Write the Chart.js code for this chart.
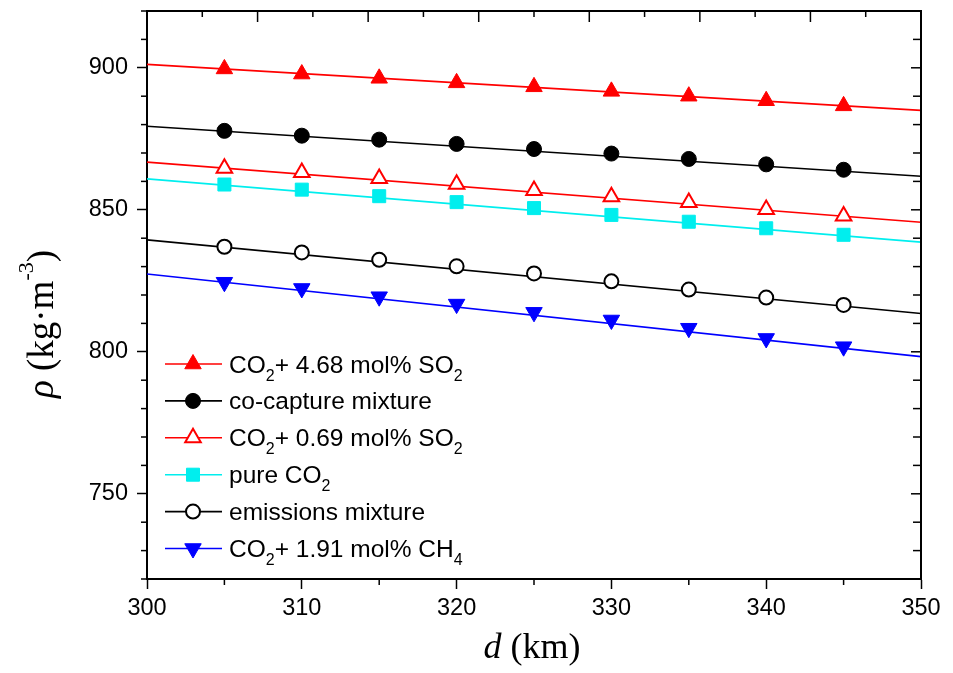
<!DOCTYPE html>
<html>
<head>
<meta charset="utf-8">
<title>Density along pipeline</title>
<script src="https://cdn.jsdelivr.net/npm/chart.js@4.4.1/dist/chart.umd.min.js"></script>
<style>
  html, body { margin: 0; padding: 0; background: #fff; }
  canvas { display: block; }
</style>
</head>
<body>
<canvas id="densityChart" width="953" height="673"></canvas>
<script>
// Marker positions (km) and the end points of the fitted lines
const distances = [305, 310, 315, 320, 325, 330, 335, 340, 345];
const fitDistances = [300, 350];

// Density values (kg/m3)
const so2High = [899.6, 897.8, 896.3, 894.7, 893.3, 891.7, 890.0, 888.4, 886.6];
const so2HighFit = [901.2, 885.0];
const coCapture = [877.8, 876.1, 874.7, 873.2, 871.4, 869.8, 867.9, 866.0, 864.1];
const coCaptureFit = [879.4, 861.8];
const so2Low = [864.6, 863.1, 861.0, 859.0, 856.8, 854.6, 852.6, 850.1, 847.8];
const so2LowFit = [866.8, 845.6];
const pureCO2 = [858.9, 857.1, 854.8, 852.7, 850.6, 848.2, 845.8, 843.5, 841.2];
const pureCO2Fit = [860.9, 838.6];
const emissions = [837.0, 835.0, 832.4, 830.1, 827.6, 824.8, 821.9, 819.1, 816.5];
const emissionsFit = [839.4, 813.5];
const ch4 = [824.5, 822.3, 819.4, 816.8, 813.9, 811.2, 808.3, 804.7, 801.8];
const ch4Fit = [827.4, 798.3];

// Legend labels, "_x" marks a subscript character
const seriesLabels = [
    'CO_2+ 4.68 mol% SO_2',
    'co-capture mixture',
    'CO_2+ 0.69 mol% SO_2',
    'pure CO_2',
    'emissions mixture',
    'CO_2+ 1.91 mol% CH_4'
];

const xTickValues = [300, 310, 320, 330, 340, 350];
const yTickValues = [750, 800, 850, 900];

const SANS = '"Liberation Sans", Arial, sans-serif';
const SERIF = '"Liberation Serif", "Times New Roman", serif';

const styles = [
    { color: '#ff0000', fill: '#ff0000', pointStyle: 'triangle', radius: 9.5, rotation: 0, borderWidth: 1 },
    { color: '#000000', fill: '#000000', pointStyle: 'circle', radius: 7.5, rotation: 0, borderWidth: 1 },
    { color: '#ff0000', fill: '#ffffff', pointStyle: 'triangle', radius: 9, rotation: 0, borderWidth: 2 },
    { color: '#00eeee', fill: '#00eeee', pointStyle: 'rect', radius: 9.2, rotation: 0, borderWidth: 1 },
    { color: '#000000', fill: '#ffffff', pointStyle: 'circle', radius: 7, rotation: 0, borderWidth: 2 },
    { color: '#0000ff', fill: '#0000ff', pointStyle: 'triangle', radius: 9.5, rotation: 180, borderWidth: 1 }
];

const markerSeries = [so2High, coCapture, so2Low, pureCO2, emissions, ch4];
const fitSeries = [so2HighFit, coCaptureFit, so2LowFit, pureCO2Fit, emissionsFit, ch4Fit];

const toPoints = (xs, ys) => ys.map((y, i) => ({ x: xs[i], y: y }));

const datasets = [];
markerSeries.forEach((values, i) => {
    const s = styles[i];
    datasets.push({
        label: seriesLabels[i],
        data: toPoints(distances, values),
        showLine: false,
        pointStyle: s.pointStyle,
        pointRadius: s.radius,
        pointRotation: s.rotation,
        pointBackgroundColor: s.fill,
        pointBorderColor: s.color,
        pointBorderWidth: s.borderWidth,
        order: 0
    });
});
fitSeries.forEach((values, i) => {
    datasets.push({
        label: seriesLabels[i] + ' fit',
        data: toPoints(fitDistances, values),
        borderColor: styles[i].color,
        borderWidth: 1.6,
        pointRadius: 0,
        fill: false,
        order: 1
    });
});

function line(ctx, x1, y1, x2, y2) {
    ctx.beginPath();
    ctx.moveTo(x1, y1);
    ctx.lineTo(x2, y2);
    ctx.stroke();
}

// Draw a label with "_x" subscripts
function drawRichText(ctx, text, x, y, size, subSize, subDrop, family) {
    const parts = text.split(/(_.)/).filter(p => p.length);
    let cx = x;
    parts.forEach(p => {
        if (p[0] === '_') {
            ctx.font = subSize + 'px ' + family;
            ctx.fillText(p[1], cx, y + subDrop);
            cx += ctx.measureText(p[1]).width;
        } else {
            ctx.font = size + 'px ' + family;
            ctx.fillText(p, cx, y);
            cx += ctx.measureText(p).width;
        }
    });
}

function drawMarker(ctx, s, x, y) {
    ctx.fillStyle = s.fill;
    ctx.strokeStyle = s.color;
    ctx.lineWidth = s.borderWidth;
    if (Chart.helpers && Chart.helpers.drawPoint) {
        Chart.helpers.drawPoint(ctx, { pointStyle: s.pointStyle, radius: s.radius, rotation: s.rotation, borderWidth: s.borderWidth }, x, y);
    }
}

const decorations = {
    id: 'decorations',
    afterDraw(chart) {
        const ctx = chart.ctx;
        const xs = chart.scales.x, ys = chart.scales.y;
        const { left, right, top, bottom } = chart.chartArea;
        ctx.save();

        // frame on top and right
        ctx.strokeStyle = '#000';
        ctx.lineWidth = 2;
        line(ctx, left - 1, top, right + 1, top);
        line(ctx, right, top, right, bottom);

        // minor ticks and mirrored ticks
        ctx.lineWidth = 1.5;
        for (let v = ys.min; v <= ys.max; v += 10) {
            const py = ys.getPixelForValue(v);
            const major = yTickValues.includes(v);
            if (!major) line(ctx, left - 6, py, left, py);
            line(ctx, right - (major ? 10 : 8), py, right, py);
        }
        for (let v = xs.min + 5; v < xs.max; v += 10) {
            const px = xs.getPixelForValue(v);
            line(ctx, px, bottom, px, bottom + 6);
        }
        for (let k = 1; k < 14; k++) {
            const px = xs.getPixelForValue(xs.min + k * (xs.max - xs.min) / 14);
            line(ctx, px, top, px, top + (k % 2 === 0 ? 11 : 6));
        }

        // legend
        const rowY0 = 364, rowGap = 36.9;
        ctx.textBaseline = 'alphabetic';
        ctx.textAlign = 'left';
        styles.forEach((s, i) => {
            const y = rowY0 + i * rowGap;
            ctx.strokeStyle = s.color;
            ctx.lineWidth = 1.6;
            line(ctx, 165, y, 222, y);
            drawMarker(ctx, s, 193, y);
            ctx.fillStyle = '#000';
            drawRichText(ctx, seriesLabels[i], 229, y + 8.5, 24.5, 16, 8, SANS);
        });

        // x axis title
        ctx.fillStyle = '#000';
        ctx.font = 'italic 36px ' + SERIF;
        const dW = ctx.measureText('d').width;
        ctx.font = '36px ' + SERIF;
        const restW = ctx.measureText(' (km)').width;
        const xStart = 532 - (dW + restW) / 2;
        ctx.font = 'italic 36px ' + SERIF;
        ctx.fillText('d', xStart, 658);
        ctx.font = '36px ' + SERIF;
        ctx.fillText(' (km)', xStart + dW, 658);

        // y axis title, rotated
        ctx.translate(53, 324);
        ctx.rotate(-Math.PI / 2);
        const segs = [
            { t: '\u03c1', f: 'italic 37px ' + SERIF, dy: 0 },
            { t: ' (kg\u00b7m', f: '37px ' + SERIF, dy: 0 },
            { t: '-3', f: '22px ' + SERIF, dy: -20 },
            { t: ')', f: '37px ' + SERIF, dy: 0 }
        ];
        let total = 0;
        segs.forEach(sg => { ctx.font = sg.f; sg.w = ctx.measureText(sg.t).width; total += sg.w; });
        let cx = -total / 2;
        segs.forEach(sg => {
            ctx.font = sg.f;
            ctx.fillText(sg.t, cx, sg.dy);
            cx += sg.w;
        });

        ctx.restore();
    }
};

const ctx = document.getElementById('densityChart').getContext('2d');
new Chart(ctx, {
    type: 'line',
    data: { datasets: datasets },
    options: {
        responsive: false,
        animation: false,
        layout: { padding: { left: 0, top: 10, right: 32, bottom: 0 } },
        plugins: {
            legend: { display: false },
            tooltip: { enabled: false }
        },
        scales: {
            x: {
                type: 'linear',
                min: 300,
                max: 350,
                afterBuildTicks: (scale) => { scale.ticks = xTickValues.map(v => ({ value: v })); },
                afterFit: (scale) => {
                    scale.height = 94;
                    scale.paddingLeft = 0;
                    scale.paddingRight = 0;
                },
                grid: { drawOnChartArea: false, drawTicks: true, tickLength: 10, tickWidth: 1.5, tickColor: '#000' },
                border: { display: true, color: '#000', width: 2 },
                ticks: { color: '#000', padding: 5, maxRotation: 0, font: { family: SANS, size: 23.5 } }
            },
            y: {
                type: 'linear',
                min: 720,
                max: 920,
                afterBuildTicks: (scale) => { scale.ticks = yTickValues.map(v => ({ value: v })); },
                afterFit: (scale) => {
                    scale.width = 147;
                    scale.paddingTop = 0;
                    scale.paddingBottom = 0;
                },
                grid: { drawOnChartArea: false, drawTicks: true, tickLength: 10, tickWidth: 1.5, tickColor: '#000' },
                border: { display: true, color: '#000', width: 2 },
                ticks: { color: '#000', padding: 9, font: { family: SANS, size: 23.5 } }
            }
        }
    },
    plugins: [decorations]
});
</script>
</body>
</html>
